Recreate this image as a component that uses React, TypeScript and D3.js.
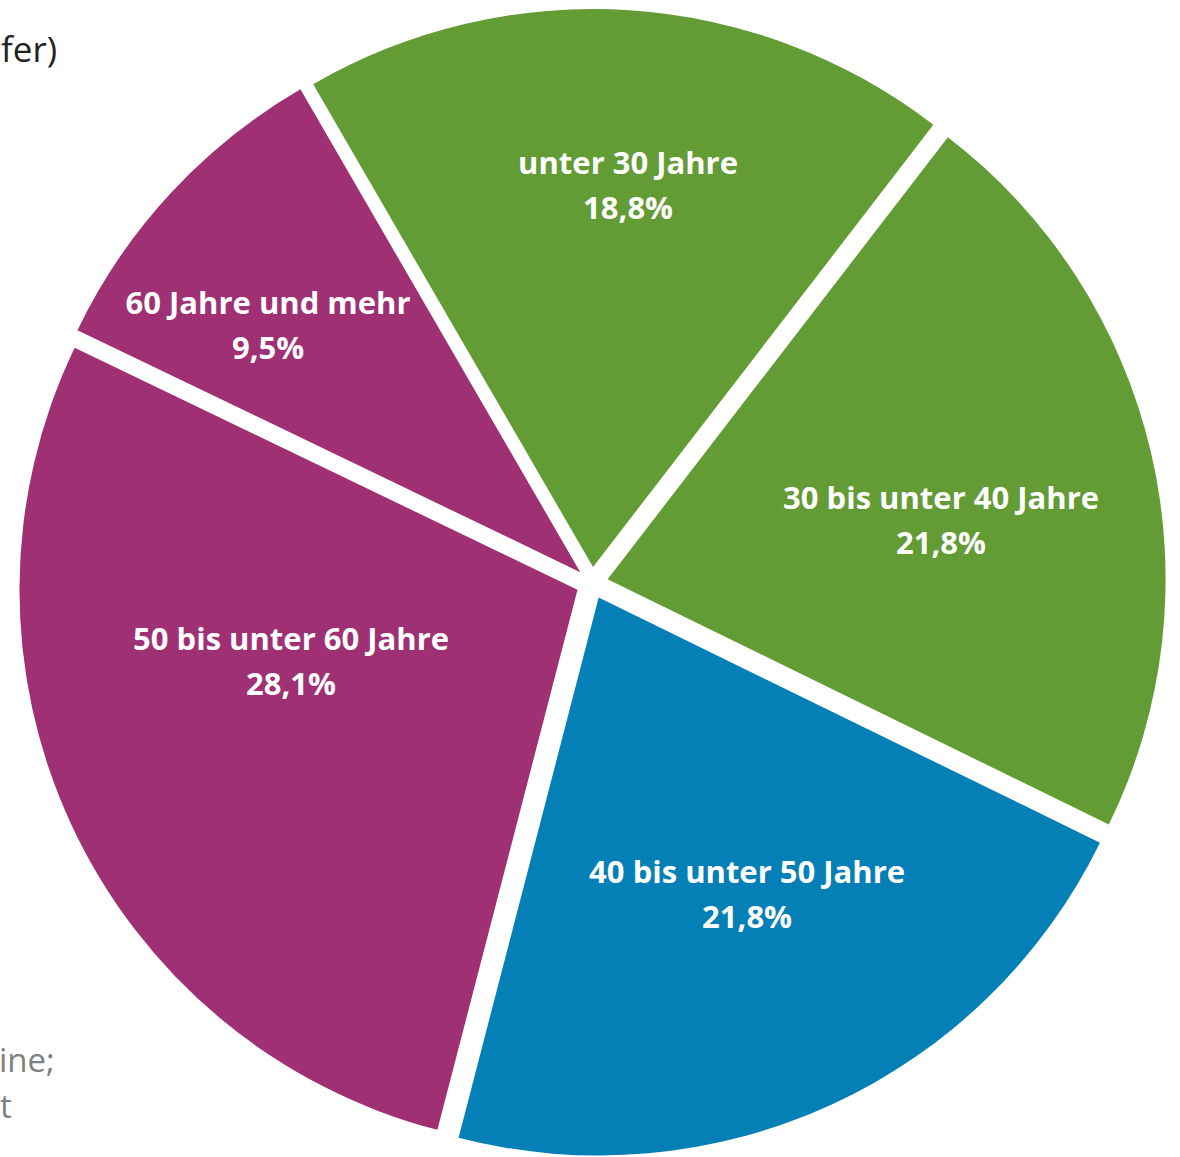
import React, { useEffect } from "react";
import * as d3 from "d3";

const categories = [
  "unter 30 Jahre",
  "30 bis unter 40 Jahre",
  "40 bis unter 50 Jahre",
  "50 bis unter 60 Jahre",
  "60 Jahre und mehr",
];
const shares = [18.8, 21.8, 21.8, 28.1, 9.5];
const valueLabels = ["18,8%", "21,8%", "21,8%", "28,1%", "9,5%"];
const colors = ["#639B35", "#639B35", "#0580B7", "#9E3073", "#9E3073"];

// layout tweaks for label placement (angle shift in degrees, radius fraction)
const labelAngleShift = [1.5, 3.1, -1.9, 10.9, -4.4];
const labelRadiusFrac = [0.687, 0.607, 0.594, 0.529, 0.714];

const W = 1180;
const H = 1157;
const CX = 592;
const CY = 583;
const R = 558;
const EXPLODE = 16;
const START = (-30.1 * Math.PI) / 180;

export default function App() {
  useEffect(() => {
    document.body.style.margin = "0";
  }, []);

  const pie = d3
    .pie<number>()
    .sort(null)
    .value((d) => d)
    .startAngle(START)
    .endAngle(START + 2 * Math.PI);
  const arcs = pie(shares);
  const arcGen = d3.arc<d3.PieArcDatum<number>>().innerRadius(0).outerRadius(R);

  const font = "'Open Sans', 'DejaVu Sans', sans-serif";

  return (
    <svg
      width={W}
      height={H}
      viewBox={`0 0 ${W} ${H}`}
      style={{ display: "block", position: "absolute", left: 0, top: 0 }}
    >
      <rect x={0} y={0} width={W} height={H} fill="#ffffff" />
      <text x={1} y={62} fontFamily={font} fontSize={35} fill="#222222">
        fer)
      </text>
      <text fontFamily={font} fontSize={33} fill="#808080">
        <tspan x={-1} y={1072}>ine;</tspan>
        <tspan x={0} y={1118}>t</tspan>
      </text>
      <g transform={`translate(${CX},${CY})`}>
        {arcs.map((a, i) => {
          const mid = (a.startAngle + a.endAngle) / 2;
          const ox = Math.sin(mid) * EXPLODE;
          const oy = -Math.cos(mid) * EXPLODE;
          const la = mid + (labelAngleShift[i] * Math.PI) / 180;
          const lr = labelRadiusFrac[i] * R;
          const lx = Math.sin(la) * lr;
          const ly = -Math.cos(la) * lr;
          return (
            <g key={categories[i]} transform={`translate(${ox},${oy})`}>
              <path d={arcGen(a) || ""} fill={colors[i]} />
              <text
                x={lx}
                y={ly}
                textAnchor="middle"
                fontFamily={font}
                fontWeight={700}
                fontSize={31}
                fill="#ffffff"
              >
                <tspan x={lx} dy={-11}>{categories[i]}</tspan>
                <tspan x={lx} dy={45}>{valueLabels[i]}</tspan>
              </text>
            </g>
          );
        })}
      </g>
    </svg>
  );
}
